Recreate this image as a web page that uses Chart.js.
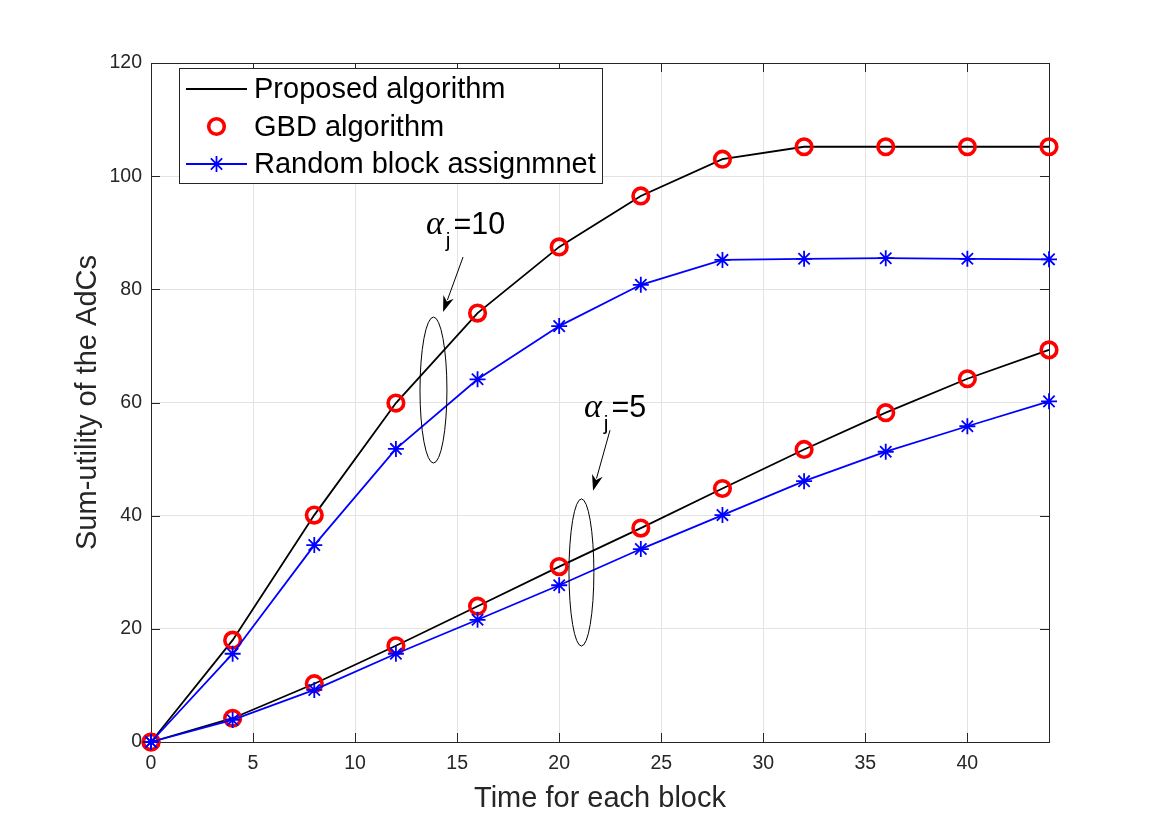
<!DOCTYPE html>
<html lang="en">
<head>
    <meta charset="utf-8" />
    <title>Sum-utility vs time</title>
    <script src="https://cdn.jsdelivr.net/npm/chart.js"></script>
    <style>
        html, body { margin: 0; padding: 0; background: #ffffff; }
        #wrap { width: 1161px; height: 836px; position: relative; }
    </style>
</head>
<body>
    <div id="wrap"><canvas id="grafico"></canvas></div>

    <script>
        // dados
        const timeBlocks = [0, 4, 8, 12, 16, 20, 24, 28, 32, 36, 40, 44];
        const proposedA10 = [0, 18, 40.1, 59.9, 75.8, 87.5, 96.5, 103, 105.2, 105.2, 105.2, 105.2];
        const gbdA10 = [0, 18, 40.1, 59.9, 75.8, 87.5, 96.5, 103, 105.2, 105.2, 105.2, 105.2];
        const randomA10 = [0, 15.6, 34.8, 51.8, 64.1, 73.5, 80.8, 85.2, 85.4, 85.5, 85.4, 85.3];
        const proposedA5 = [0, 4.2, 10.3, 17, 24, 31, 37.8, 44.8, 51.7, 58.2, 64.2, 69.3];
        const gbdA5 = [0, 4.2, 10.3, 17, 24, 31, 37.8, 44.8, 51.7, 58.2, 64.2, 69.3];
        const randomA5 = [0, 3.9, 9.2, 15.6, 21.6, 27.7, 34.1, 40.1, 46.1, 51.3, 55.8, 60.2];

        const xTicks = [0, 5, 10, 15, 20, 25, 30, 35, 40];
        const yTicks = [0, 20, 40, 60, 80, 100, 120];
        const legendLabels = ['Proposed algorithm', 'GBD algorithm', 'Random block assignmnet'];

        // anotacoes (coordenadas em unidades dos eixos)
        const notes = [
            { sub: 'j', txt: '=10', at: [13.52, 89.8], arrow: [[15.29, 85.7], [14.31, 76.0]], ell: [13.84, 62.2, 0.66, 12.9] },
            { sub: 'j', txt: '=5', at: [21.26, 57.4], arrow: [[22.49, 55.1], [21.66, 44.4]], ell: [21.09, 29.96, 0.61, 13.0] }
        ];

        const axisColor = '#262626';
        const sans = '"Liberation Sans", Arial, Helvetica, sans-serif';

        const toXY = (ys) => timeBlocks.map((t, i) => ({ x: t, y: ys[i] }));

        function lineSet(label, ys, color, order) {
            return {
                label: label, data: toXY(ys), borderColor: color, borderWidth: 1.8,
                pointRadius: 0, fill: false, tension: 0, clip: false, order: order
            };
        }
        function circleSet(label, ys) {
            return {
                label: label, data: toXY(ys), showLine: false, pointStyle: 'circle',
                pointRadius: 7.8, pointBorderWidth: 3.6, pointBorderColor: '#ff0000',
                pointBackgroundColor: 'rgba(0,0,0,0)', clip: false, order: 2
            };
        }
        function starSet(label, ys) {
            return {
                label: label, data: toXY(ys), borderColor: '#0000ff', borderWidth: 1.8,
                pointStyle: 'star', pointRadius: 8, pointBorderWidth: 1.8,
                pointBorderColor: '#0000ff', pointBackgroundColor: '#0000ff',
                tension: 0, fill: false, clip: false, order: 1
            };
        }

        // caixa, ticks internos, legenda e anotacoes estilo MATLAB
        const matlabDecor = {
            id: 'matlabDecor',
            beforeDatasetsDraw(chart) {
                const { ctx, chartArea: a, scales: { x, y } } = chart;
                ctx.save();
                ctx.strokeStyle = axisColor;
                ctx.lineWidth = 1;
                ctx.strokeRect(a.left + 0.5, a.top + 0.5, a.right - a.left, a.bottom - a.top);
                ctx.beginPath();
                xTicks.forEach(v => {
                    const px = Math.round(x.getPixelForValue(v)) + 0.5;
                    ctx.moveTo(px, a.bottom); ctx.lineTo(px, a.bottom - 9);
                    ctx.moveTo(px, a.top); ctx.lineTo(px, a.top + 9);
                });
                yTicks.forEach(v => {
                    const py = Math.round(y.getPixelForValue(v)) + 0.5;
                    ctx.moveTo(a.left, py); ctx.lineTo(a.left + 9, py);
                    ctx.moveTo(a.right, py); ctx.lineTo(a.right - 9, py);
                });
                ctx.stroke();
                ctx.restore();
            },
            afterDatasetsDraw(chart) {
                const { ctx, scales: { x, y } } = chart;
                ctx.save();

                // anotacoes
                notes.forEach(n => {
                    const [cx, cy, rx, ry] = n.ell;
                    const pcx = x.getPixelForValue(cx), pcy = y.getPixelForValue(cy);
                    const prx = Math.abs(x.getPixelForValue(cx + rx) - pcx);
                    const pry = Math.abs(y.getPixelForValue(cy + ry) - pcy);
                    ctx.strokeStyle = '#000000';
                    ctx.lineWidth = 1;
                    ctx.beginPath();
                    ctx.ellipse(pcx, pcy, prx, pry, 0, 0, Math.PI * 2);
                    ctx.stroke();

                    const x0 = x.getPixelForValue(n.arrow[0][0]), y0 = y.getPixelForValue(n.arrow[0][1]);
                    const x1 = x.getPixelForValue(n.arrow[1][0]), y1 = y.getPixelForValue(n.arrow[1][1]);
                    const ang = Math.atan2(y1 - y0, x1 - x0);
                    const hl = 16, hw = 5.5;
                    ctx.beginPath();
                    ctx.moveTo(x0, y0);
                    ctx.lineTo(x1 - Math.cos(ang) * hl * 0.8, y1 - Math.sin(ang) * hl * 0.8);
                    ctx.stroke();
                    ctx.fillStyle = '#000000';
                    ctx.beginPath();
                    ctx.moveTo(x1, y1);
                    ctx.lineTo(x1 - Math.cos(ang) * hl - Math.sin(ang) * hw, y1 - Math.sin(ang) * hl + Math.cos(ang) * hw);
                    ctx.lineTo(x1 - Math.cos(ang) * hl * 0.7, y1 - Math.sin(ang) * hl * 0.7);
                    ctx.lineTo(x1 - Math.cos(ang) * hl + Math.sin(ang) * hw, y1 - Math.sin(ang) * hl - Math.cos(ang) * hw);
                    ctx.closePath();
                    ctx.fill();

                    const tx = x.getPixelForValue(n.at[0]), ty = y.getPixelForValue(n.at[1]);
                    ctx.textBaseline = 'alphabetic';
                    ctx.textAlign = 'left';
                    ctx.font = 'italic 34px "Liberation Serif", "DejaVu Serif", serif';
                    ctx.fillText('\u03b1', tx - 1, ty);
                    const aw = ctx.measureText('\u03b1').width;
                    ctx.font = '21px ' + sans;
                    ctx.fillText(n.sub, tx + aw + 1, ty + 13);
                    const jw = ctx.measureText(n.sub).width;
                    ctx.font = '30.5px ' + sans;
                    ctx.fillText(n.txt, tx + aw + jw + 4, ty);
                });

                // legenda
                const lx = 179.5, ly = 68.5, lw = 423, lh = 115;
                ctx.fillStyle = '#ffffff';
                ctx.fillRect(lx, ly, lw, lh);
                ctx.strokeStyle = axisColor;
                ctx.lineWidth = 1;
                ctx.strokeRect(lx, ly, lw, lh);
                const rows = [89, 126.5, 164];
                ctx.font = '29px ' + sans;
                ctx.textBaseline = 'middle';
                ctx.textAlign = 'left';
                rows.forEach((ry, i) => {
                    if (i !== 1) {
                        ctx.strokeStyle = i === 0 ? '#000000' : '#0000ff';
                        ctx.lineWidth = 1.8;
                        ctx.beginPath();
                        ctx.moveTo(186, ry); ctx.lineTo(247, ry);
                        ctx.stroke();
                    }
                    if (i === 1) {
                        ctx.strokeStyle = '#ff0000';
                        ctx.lineWidth = 3.6;
                        ctx.beginPath();
                        ctx.arc(216.5, ry, 7.8, 0, Math.PI * 2);
                        ctx.stroke();
                    }
                    if (i === 2) {
                        ctx.strokeStyle = '#0000ff';
                        ctx.lineWidth = 1.8;
                        ctx.beginPath();
                        for (let k = 0; k < 4; k++) {
                            const t = k * Math.PI / 4;
                            ctx.moveTo(216.5 - Math.cos(t) * 8, ry - Math.sin(t) * 8);
                            ctx.lineTo(216.5 + Math.cos(t) * 8, ry + Math.sin(t) * 8);
                        }
                        ctx.stroke();
                    }
                    ctx.fillStyle = '#000000';
                    ctx.fillText(legendLabels[i], 254, ry + 1);
                });
                ctx.restore();
            }
        };

        const ctx = document.getElementById('grafico').getContext('2d');
        new Chart(ctx, {
            type: 'line',
            data: {
                datasets: [
                    lineSet('Proposed alpha=10', proposedA10, '#000000', 3),
                    lineSet('Proposed alpha=5', proposedA5, '#000000', 3),
                    circleSet('GBD alpha=10', gbdA10),
                    circleSet('GBD alpha=5', gbdA5),
                    starSet('Random alpha=10', randomA10),
                    starSet('Random alpha=5', randomA5)
                ]
            },
            options: {
                responsive: true,
                maintainAspectRatio: false,
                animation: false,
                layout: { padding: { top: 63, right: 112, bottom: 0, left: 0 } },
                plugins: {
                    legend: { display: false },
                    tooltip: { enabled: false }
                },
                scales: {
                    x: {
                        type: 'linear', min: 0, max: 44,
                        afterBuildTicks: (s) => { s.ticks = xTicks.map(v => ({ value: v })); },
                        afterFit: (s) => { s.height = 94; },
                        grid: { color: '#e3e3e3', drawTicks: false },
                        border: { display: false },
                        ticks: { color: axisColor, padding: 10, maxRotation: 0, font: { family: sans, size: 19.5 } },
                        title: {
                            display: true, text: 'Time for each block', color: axisColor,
                            font: { family: sans, size: 29 }, padding: { top: 0, bottom: 20 }
                        }
                    },
                    y: {
                        type: 'linear', min: 0, max: 120,
                        afterBuildTicks: (s) => { s.ticks = yTicks.map(v => ({ value: v })); },
                        afterFit: (s) => { s.width = 151; },
                        grid: { color: '#e3e3e3', drawTicks: false },
                        border: { display: false },
                        ticks: { color: axisColor, padding: 9, font: { family: sans, size: 19.5 } },
                        title: {
                            display: true, text: 'Sum-utility of the AdCs', color: axisColor,
                            font: { family: sans, size: 29 }, padding: { top: 71, bottom: 0 }
                        }
                    }
                }
            },
            plugins: [matlabDecor]
        });
    </script>
</body>
</html>
